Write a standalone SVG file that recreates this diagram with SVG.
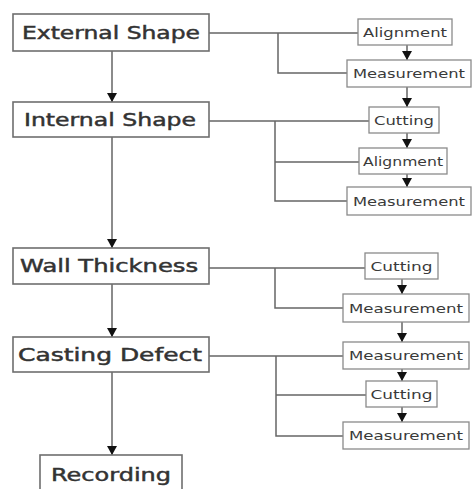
<svg xmlns="http://www.w3.org/2000/svg" width="472" height="489" viewBox="0 0 472 489">
<style>
.box{fill:#fff;stroke:#6e6e6e;stroke-width:1.6}
.sbox{fill:#fff;stroke:#8a8a8a;stroke-width:1.3}
.lt{font-family:"DejaVu Sans","Liberation Sans",sans-serif;font-size:17px;fill:#333;stroke:#333;stroke-width:0.45;text-anchor:middle}
.st{font-family:"DejaVu Sans","Liberation Sans",sans-serif;font-size:12px;fill:#3a3a3a;text-anchor:middle}
.ln{fill:none;stroke:#666;stroke-width:1.5}
</style>
<defs>
<path id="tri" d="M-5,-9 L5,-9 L0,0 Z" fill="#111"/>
</defs>
<g id="connectors">
<path class="ln" d="M112,51 V102 M112,137 V248 M112,284 V337 M112,372 V455"/>
<use href="#tri" x="112" y="102"/>
<use href="#tri" x="112" y="248"/>
<use href="#tri" x="112" y="337"/>
<use href="#tri" x="112" y="455"/>
<path class="ln" d="M209,33 H358 M278,33 V73 H347"/>
<path class="ln" d="M209,121 H369 M275,121 V201 H347 M275,162 H359"/>
<path class="ln" d="M209,268 H365 M275,268 V308 H343"/>
<path class="ln" d="M209,356 H343 M276,356 V436 H343 M276,395 H366"/>
<path class="ln" d="M407,45 V60 M407,87 V107 M407,133 V148 M407,174 V187 M402,279 V294 M402,322 V342 M402,369 V381 M402,407 V422" stroke-width="1.2"/>
<use href="#tri" x="407" y="60"/>
<use href="#tri" x="407" y="107"/>
<use href="#tri" x="407" y="148"/>
<use href="#tri" x="407" y="187"/>
<use href="#tri" x="402" y="294"/>
<use href="#tri" x="402" y="342"/>
<use href="#tri" x="402" y="381"/>
<use href="#tri" x="402" y="422"/>
</g>
<g id="external-shape"><rect class="box" x="13" y="14" width="196" height="37"/><text class="lt" x="111" y="39" textLength="178" lengthAdjust="spacingAndGlyphs">External Shape</text></g>
<g id="internal-shape"><rect class="box" x="13" y="102" width="196" height="35"/><text class="lt" x="110" y="126" textLength="172" lengthAdjust="spacingAndGlyphs">Internal Shape</text></g>
<g id="wall-thickness"><rect class="box" x="13" y="248" width="196" height="36"/><text class="lt" x="109" y="272" textLength="178" lengthAdjust="spacingAndGlyphs">Wall Thickness</text></g>
<g id="casting-defect"><rect class="box" x="13" y="337" width="196" height="35"/><text class="lt" x="110" y="361" textLength="184" lengthAdjust="spacingAndGlyphs">Casting Defect</text></g>
<g id="recording"><rect class="box" x="40" y="455" width="142" height="50"/><text class="lt" x="111" y="481" textLength="120" lengthAdjust="spacingAndGlyphs">Recording</text></g>
<g id="alignment-1"><rect class="sbox" x="358" y="19" width="94" height="26"/><text class="st" x="405" y="36.5" textLength="84" lengthAdjust="spacingAndGlyphs">Alignment</text></g>
<g id="measurement-1"><rect class="sbox" x="347" y="60" width="124" height="27"/><text class="st" x="409" y="78" textLength="112" lengthAdjust="spacingAndGlyphs">Measurement</text></g>
<g id="cutting-1"><rect class="sbox" x="369" y="107" width="70" height="26"/><text class="st" x="404" y="124.5" textLength="60" lengthAdjust="spacingAndGlyphs">Cutting</text></g>
<g id="alignment-2"><rect class="sbox" x="359" y="148" width="88" height="26"/><text class="st" x="403" y="165.5" textLength="80" lengthAdjust="spacingAndGlyphs">Alignment</text></g>
<g id="measurement-2"><rect class="sbox" x="347" y="187" width="124" height="28"/><text class="st" x="409" y="205.5" textLength="112" lengthAdjust="spacingAndGlyphs">Measurement</text></g>
<g id="cutting-3"><rect class="sbox" x="365" y="253" width="73" height="26"/><text class="st" x="401.5" y="270.5" textLength="62" lengthAdjust="spacingAndGlyphs">Cutting</text></g>
<g id="measurement-3"><rect class="sbox" x="343" y="294" width="126" height="28"/><text class="st" x="406" y="312.5" textLength="114" lengthAdjust="spacingAndGlyphs">Measurement</text></g>
<g id="measurement-4"><rect class="sbox" x="343" y="342" width="126" height="27"/><text class="st" x="406" y="360" textLength="114" lengthAdjust="spacingAndGlyphs">Measurement</text></g>
<g id="cutting-4"><rect class="sbox" x="366" y="381" width="71" height="26"/><text class="st" x="401.5" y="398.5" textLength="62" lengthAdjust="spacingAndGlyphs">Cutting</text></g>
<g id="measurement-5"><rect class="sbox" x="343" y="422" width="126" height="27"/><text class="st" x="406" y="440" textLength="114" lengthAdjust="spacingAndGlyphs">Measurement</text></g>
</svg>
